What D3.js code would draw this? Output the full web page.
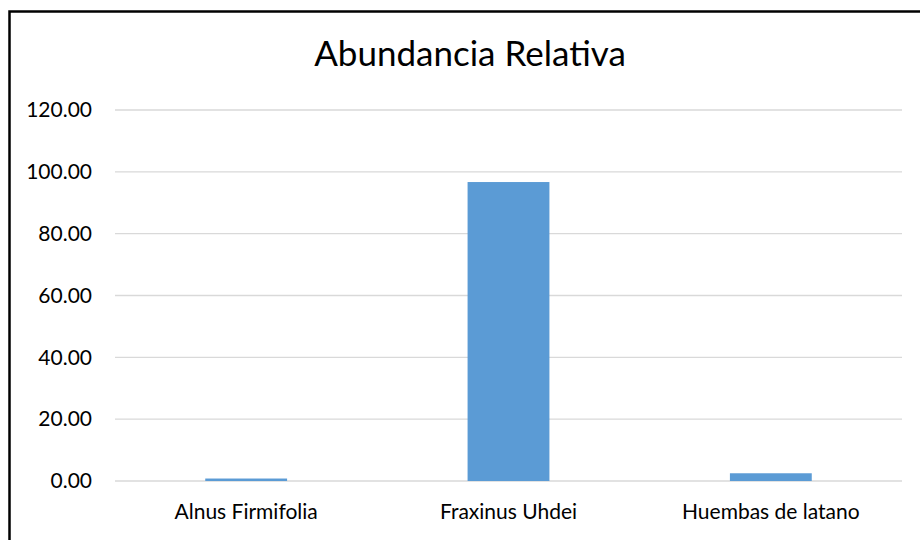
<!DOCTYPE html>
<html>
<head>
<meta charset="utf-8">
<script src="https://cdn.jsdelivr.net/npm/d3@7"></script>
<style>
  body { margin: 0; background: #fff; overflow: hidden; }
  svg { display: block; }
  text { font-family: Lato, "Open Sans", sans-serif; fill: #000; }
</style>
</head>
<body>
<svg width="920" height="540"></svg>
<script>
// data
var categories = ["Alnus Firmifolia", "Fraxinus Uhdei", "Huembas de latano"];
var values = [0.8, 96.7, 2.5];
var yTicks = [0, 20, 40, 60, 80, 100, 120];
var title = "Abundancia Relativa";

var svg = d3.select("svg");

// chart frame: only left and top edges fall inside the picture
svg.append("path")
    .attr("d", "M9.5,545V11.5H925")
    .attr("fill", "none")
    .attr("stroke", "#000")
    .attr("stroke-width", 2.5);

var x = d3.scaleBand()
    .domain(categories)
    .range([115, 902])
    .paddingInner(0.688)
    .paddingOuter(0.344);

var y = d3.scaleLinear()
    .domain([0, 120])
    .range([481, 110]);

// gridlines
svg.append("g").selectAll("line")
    .data(yTicks)
    .enter().append("line")
    .attr("x1", 115).attr("x2", 902)
    .attr("y1", function(d) { return y(d); })
    .attr("y2", function(d) { return y(d); })
    .attr("stroke", "#d9d9d9")
    .attr("stroke-width", 1.3);

// y labels
var yAxis = d3.axisLeft(y)
    .tickValues(yTicks)
    .tickSize(0)
    .tickPadding(0)
    .tickFormat(d3.format(".2f"));
var gy = svg.append("g")
    .attr("transform", "translate(92,0)")
    .call(yAxis);
gy.select(".domain").remove();
gy.selectAll("text")
    .style("font-family", "Lato, sans-serif")
    .attr("font-size", 21)
    .attr("fill", "#000");

// bars
svg.append("g").selectAll("rect")
    .data(values)
    .enter().append("rect")
    .attr("x", function(d, i) { return x(categories[i]); })
    .attr("width", x.bandwidth())
    .attr("y", function(d) { return y(d); })
    .attr("height", function(d) { return y(0) - y(d); })
    .attr("fill", "#5b9bd5");

// category labels
var xAxis = d3.axisBottom(x).tickSize(0).tickPadding(0);
var gx = svg.append("g")
    .attr("transform", "translate(0,504)")
    .call(xAxis);
gx.select(".domain").remove();
gx.selectAll("text")
    .style("font-family", "Lato, sans-serif")
    .attr("font-size", 21)
    .attr("fill", "#000");

// title
svg.append("text")
    .attr("x", 470)
    .attr("y", 66)
    .attr("text-anchor", "middle")
    .attr("font-size", 35)
    .text(title);
</script>
</body>
</html>
